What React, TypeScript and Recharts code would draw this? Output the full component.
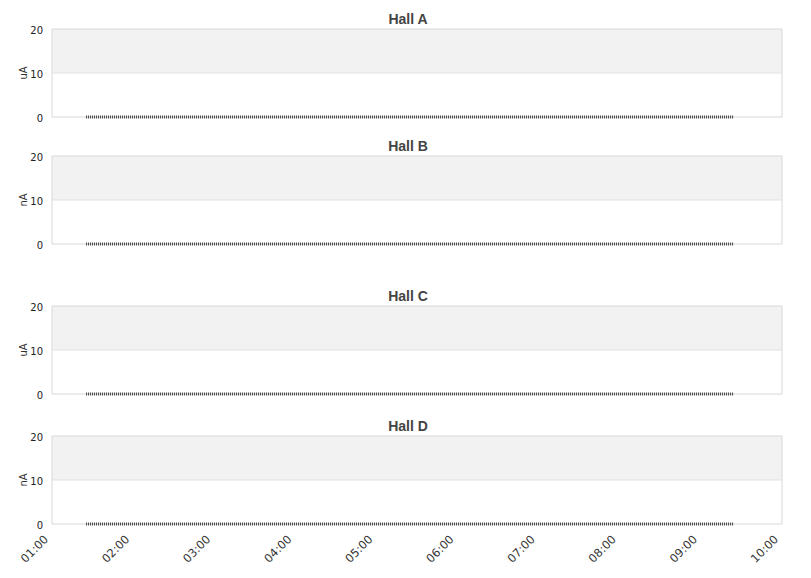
import React from 'react';
import { LineChart, Line, XAxis, YAxis, ReferenceArea, ReferenceLine } from 'recharts';

// Time in hours (1 = 01:00)
const times = [1.42, 9.4];
const hallA = [0, 0];
const hallB = [0, 0];
const hallC = [0, 0];
const hallD = [0, 0];

const hourTicks = [1, 2, 3, 4, 5, 6, 7, 8, 9, 10];
const hourLabels = ['01:00', '02:00', '03:00', '04:00', '05:00', '06:00', '07:00', '08:00', '09:00', '10:00'];
const yTicks = [0, 10, 20];

const panels = [
  { title: 'Hall A', unit: 'uA', values: hallA, top: 0 },
  { title: 'Hall B', unit: 'nA', values: hallB, top: 127 },
  { title: 'Hall C', unit: 'uA', values: hallC, top: 277 },
  { title: 'Hall D', unit: 'nA', values: hallD, top: 407 },
];

const W = 811;
const PLOT_H = 88;
const FONT = '"DejaVu Sans", Verdana, sans-serif';

const XTick = (props: any) => {
  const { x, payload } = props;
  const idx = hourTicks.indexOf(payload.value);
  const label = idx >= 0 ? hourLabels[idx] : '';
  const ax = x - 3;
  const ay = 29 + PLOT_H + 16;
  return (
    <text
      x={ax}
      y={ay}
      transform={`rotate(-45, ${ax}, ${ay})`}
      textAnchor="end"
      style={{ fontSize: 11.5, fontFamily: FONT, fill: '#333' }}
    >
      {label}
    </text>
  );
};

const YTick = (props: any) => {
  const { y, payload } = props;
  return (
    <text
      x={43}
      y={y + 1}
      textAnchor="end"
      dominantBaseline="central"
      style={{ fontSize: 10, fontFamily: FONT, fill: '#222' }}
    >
      {payload.value}
    </text>
  );
};

const UnitLabel = (unit: string) => (props: any) => {
  const vb = props.viewBox || {};
  const cx = 23;
  const cy = (vb.y ?? 0) + (vb.height ?? 0) / 2;
  return (
    <text
      x={cx}
      y={cy}
      transform={`rotate(-90, ${cx}, ${cy})`}
      textAnchor="middle"
      dominantBaseline="central"
      style={{ fontSize: 10, fontFamily: FONT, fill: '#333' }}
    >
      {unit}
    </text>
  );
};

function Panel({ title, unit, values, top, last }: any) {
  const data = times.map((t, i) => ({ t, v: values[i] }));
  const bottomExtra = last ? 54 : 13;
  const height = 29 + PLOT_H + bottomExtra;
  return (
    <div style={{ position: 'absolute', left: 0, top, width: W, height }}>
      <div
        style={{
          position: 'absolute',
          left: 308,
          width: 200,
          top: 11,
          textAlign: 'center',
          fontFamily: '"Liberation Sans", Arial, sans-serif',
          fontWeight: 'bold',
          fontSize: 14,
          lineHeight: '16px',
          color: '#444',
        }}
      >
        {title}
      </div>
      <LineChart
        width={W}
        height={height}
        data={data}
        margin={{ top: 29, right: 29, bottom: last ? 4 : 13, left: 0 }}
      >
        <XAxis
          dataKey="t"
          type="number"
          domain={[1, 10]}
          ticks={hourTicks}
          hide={!last}
          axisLine={false}
          tickLine={false}
          height={50}
          interval={0}
          tick={<XTick />}
        />
        <YAxis
          type="number"
          domain={[0, 20]}
          ticks={yTicks}
          width={52}
          axisLine={false}
          tickLine={false}
          tick={<YTick />}
          label={UnitLabel(unit)}
        />
        <ReferenceArea y1={10} y2={20} fill="#f2f2f2" fillOpacity={1} stroke="none" />
        <ReferenceLine y={10} stroke="#e2e2e2" />
        <ReferenceArea y1={0} y2={20} fill="none" stroke="#d8d8d8" />
        <Line
          dataKey="v"
          stroke="#444"
          strokeWidth={3}
          strokeDasharray="1 1"
          dot={false}
          activeDot={false}
          isAnimationActive={false}
        />
      </LineChart>
    </div>
  );
}

export default function App() {
  return (
    <div style={{ position: 'absolute', left: 0, top: 0, width: W, height: 578, background: '#fff' }}>
      {panels.map((p, i) => (
        <Panel key={p.title} {...p} last={i === panels.length - 1} />
      ))}
    </div>
  );
}
